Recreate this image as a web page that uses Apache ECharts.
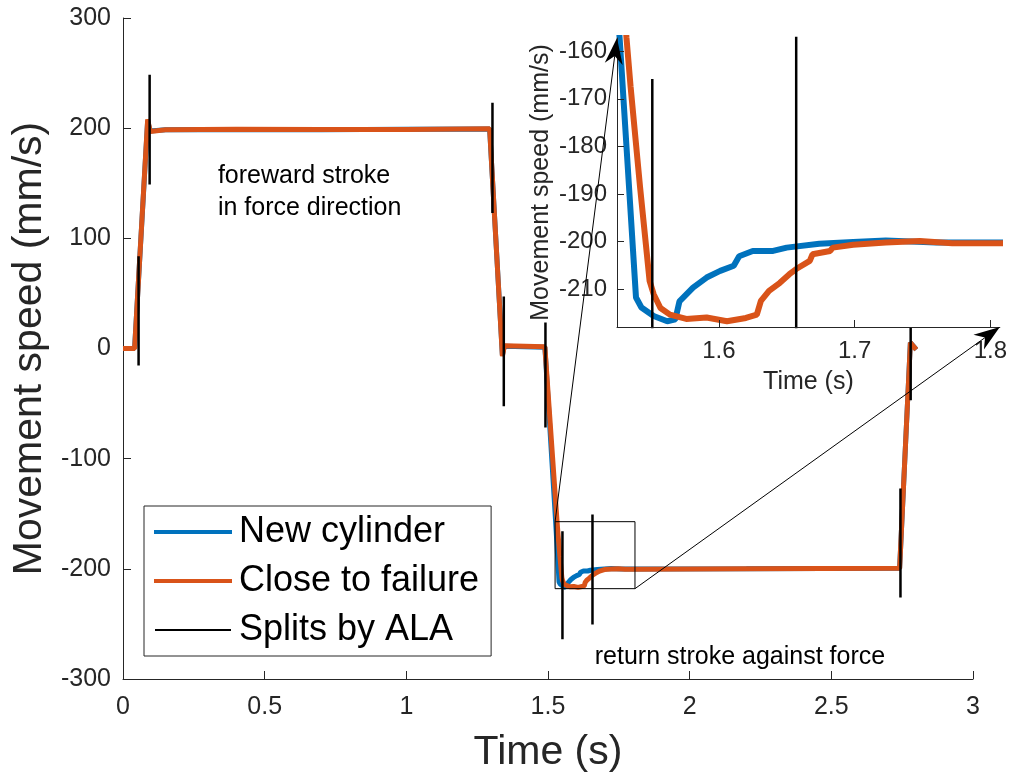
<!DOCTYPE html>
<html>
<head>
<meta charset="utf-8">
<script src="https://cdn.jsdelivr.net/npm/echarts@6/dist/echarts.min.js"></script>
<style>
html,body{margin:0;padding:0;background:#fff;}
#chart{width:1010px;height:779px;}
</style>
</head>
<body>
<div id="chart"></div>
<script>
// ---- data ----
const seriesNames = ['New cylinder', 'Close to failure', 'Splits by ALA'];
const newCylinder = [
  [0,0],[0.041,0.3],[0.087,206.5],[0.096,197.5],[0.15,198.6],[0.4,198.9],[0.7,198.6],[1.0,199],
  [1.294,199.2],[1.339,-6],[1.346,2],[1.489,1.2],[1.527,-157.5],[1.539,-211.8],[1.543,-213.9],
  [1.552,-215.7],[1.562,-216.8],[1.568,-216.4],[1.571,-212.6],[1.581,-209.7],[1.591,-207.6],
  [1.601,-206.2],[1.611,-205.1],[1.615,-203.1],[1.625,-202],[1.64,-202],[1.65,-201.3],
  [1.674,-200.5],[1.699,-200.1],[1.723,-199.8],[1.76,-200.2],[1.807,-200.2],[2.2,-200],
  [2.741,-199.5],[2.779,5.4],[2.80,-1]
];
const closeToFailure = [
  [0,0],[0.041,0],[0.087,208],[0.096,197],[0.15,198.5],[0.4,199],[0.7,198.7],[1.0,198.9],
  [1.294,199.5],[1.339,-7],[1.346,2.5],[1.489,1.5],[1.532,-157.2],[1.535,-167.4],[1.542,-188.6],
  [1.549,-208.3],[1.552,-211.1],[1.557,-214],[1.564,-215.4],[1.576,-216.3],[1.591,-216],
  [1.606,-216.8],[1.62,-216.1],[1.628,-215.4],[1.631,-212.5],[1.637,-210.4],[1.645,-208.7],
  [1.652,-206.9],[1.657,-205.8],[1.667,-204.1],[1.669,-202.7],[1.682,-202],[1.684,-201.3],
  [1.699,-200.7],[1.723,-200.2],[1.748,-199.9],[1.772,-200.4],[1.807,-200.4],[2.2,-200],
  [2.741,-199.5],[2.779,5.4],[2.80,-1]
];
// split markers: [time, top value, bottom value]
const splits = [
  [0.055,83.8,-15.4],[0.094,248.6,148.8],[1.304,223,123],[1.344,47.2,-52.4],[1.491,23.6,-71.7],
  [1.551,-165.8,-264],[1.657,-150.6,-250.5],[2.744,-127,-226],[2.78,53,-47]
];
const mainXTicks = [0, 3, 0.5];        // min, max, interval
const mainYTicks = [-300, 300, 100];
const insetXRange = [1.525, 1.807];
const insetYRange = [-218, -157.2];
const insetXTickValues = [1.6, 1.7, 1.8];
const insetYTickValues = [-210, -200, -190, -180, -170, -160];
const annotations = [
  {text: 'foreward stroke\nin force direction', at: [0.335, 142]},
  {text: 'return stroke against force', at: [1.665, -280.4]}
];

// ---- build chart ----
const FONT = '"Liberation Sans", Arial, Helvetica, sans-serif';
const AX = '#262626';
const BLUE = '#0072BD', ORANGE = '#D95319';

const splitData = [];
splits.forEach(s => { splitData.push([s[0], s[1]], [s[0], s[2]], [s[0], '-']); });
const rectData = [
  [insetXRange[0], insetYRange[1]], [insetXRange[1], insetYRange[1]],
  [insetXRange[1], insetYRange[0]], [insetXRange[0], insetYRange[0]],
  [insetXRange[0], insetYRange[1]]
];

function axisCommon(fs) {
  return {
    axisLine: {show: true, onZero: false, lineStyle: {color: AX, width: 1}},
    axisTick: {show: true, inside: true, length: 8, lineStyle: {color: AX}},
    splitLine: {show: false},
    axisLabel: {color: AX, fontSize: fs, fontFamily: FONT},
    nameTextStyle: {color: AX, fontFamily: FONT}
  };
}

const chart = echarts.init(document.getElementById('chart'));
const option = {
  animation: false,
  backgroundColor: '#fff',
  grid: [
    {left: 123, right: 37, top: 18, bottom: 100},
    {left: 617, right: 8, top: 38, bottom: 452, show: true, backgroundColor: '#fff', borderWidth: 0, z: 3}
  ],
  xAxis: [
    Object.assign(axisCommon(25), {
      gridIndex: 0, type: 'value', min: mainXTicks[0], max: mainXTicks[1], interval: mainXTicks[2],
      name: 'Time (s)', nameLocation: 'middle', nameGap: 53,
      nameTextStyle: {color: AX, fontFamily: FONT, fontSize: 41},
      axisLabel: {color: AX, fontSize: 25, fontFamily: FONT, margin: 16}
    }),
    Object.assign(axisCommon(24), {
      gridIndex: 1, type: 'value', min: insetXRange[0], max: insetXRange[1], z: 5,
      name: 'Time (s)', nameLocation: 'middle', nameGap: 43,
      nameTextStyle: {color: AX, fontFamily: FONT, fontSize: 25},
      axisTick: {show: true, inside: true, length: 7, lineStyle: {color: AX}, customValues: insetXTickValues},
      axisLabel: {color: AX, fontSize: 24, fontFamily: FONT, margin: 12, customValues: insetXTickValues}
    })
  ],
  yAxis: [
    Object.assign(axisCommon(25), {
      gridIndex: 0, type: 'value', min: mainYTicks[0], max: mainYTicks[1], interval: mainYTicks[2],
      name: 'Movement speed (mm/s)', nameLocation: 'middle', nameGap: 72,
      nameTextStyle: {color: AX, fontFamily: FONT, fontSize: 41},
      axisLabel: {color: AX, fontSize: 25, fontFamily: FONT, margin: 12}
    }),
    Object.assign(axisCommon(24), {
      gridIndex: 1, type: 'value', min: insetYRange[0], max: insetYRange[1], z: 5,
      name: 'Movement speed (mm/s)', nameLocation: 'middle', nameGap: 63,
      nameTextStyle: {color: AX, fontFamily: FONT, fontSize: 25},
      axisTick: {show: true, inside: true, length: 7, lineStyle: {color: AX}, customValues: insetYTickValues},
      axisLabel: {color: AX, fontSize: 24, fontFamily: FONT, margin: 10, customValues: insetYTickValues}
    })
  ],
  legend: {
    orient: 'vertical', left: 144, top: 506,
    padding: [6, 12, 6, 9], itemGap: 9, itemWidth: 78, itemHeight: 4,
    borderColor: AX, borderWidth: 1, backgroundColor: '#fff',
    textStyle: {fontSize: 36, color: '#000', fontFamily: FONT, lineHeight: 40, padding: [0, 0, 0, 2]},
    data: [
      {name: seriesNames[0], icon: 'rect', itemStyle: {color: BLUE, borderWidth: 0}},
      {name: seriesNames[1], icon: 'rect', itemStyle: {color: ORANGE, borderWidth: 0}},
      {name: seriesNames[2], icon: 'rect', itemStyle: {color: '#000', borderColor: '#fff', borderWidth: 2}}
    ]
  },
  series: [
    {name: seriesNames[0], type: 'line', xAxisIndex: 0, yAxisIndex: 0, data: newCylinder,
     showSymbol: false, symbol: 'none', lineStyle: {color: BLUE, width: 5}, itemStyle: {color: BLUE}, z: 2},
    {name: seriesNames[1], type: 'line', xAxisIndex: 0, yAxisIndex: 0, data: closeToFailure,
     showSymbol: false, symbol: 'none', lineStyle: {color: ORANGE, width: 5}, itemStyle: {color: ORANGE}, z: 2},
    {name: seriesNames[2], type: 'line', xAxisIndex: 0, yAxisIndex: 0, data: splitData,
     showSymbol: false, symbol: 'none', connectNulls: false, lineStyle: {color: '#000', width: 2.5}, itemStyle: {color: '#000'}, z: 2},
    {name: 'zoomRect', type: 'line', xAxisIndex: 0, yAxisIndex: 0, data: rectData, silent: true,
     showSymbol: false, symbol: 'none', lineStyle: {color: '#000', width: 1}, z: 2},
    {name: seriesNames[0], type: 'line', xAxisIndex: 1, yAxisIndex: 1, data: newCylinder,
     showSymbol: false, symbol: 'none', lineStyle: {color: BLUE, width: 6}, itemStyle: {color: BLUE}, z: 4},
    {name: seriesNames[1], type: 'line', xAxisIndex: 1, yAxisIndex: 1, data: closeToFailure,
     showSymbol: false, symbol: 'none', lineStyle: {color: ORANGE, width: 6}, itemStyle: {color: ORANGE}, z: 4},
    {name: seriesNames[2], type: 'line', xAxisIndex: 1, yAxisIndex: 1, data: splitData,
     showSymbol: false, symbol: 'none', connectNulls: false, lineStyle: {color: '#000', width: 2.5}, itemStyle: {color: '#000'}, z: 4}
  ]
};
chart.setOption(option);

// ---- annotations and zoom arrows placed through the coordinate systems ----
function arrowGraphics(from, to) {
  const dx = to[0] - from[0], dy = to[1] - from[1];
  const len = Math.sqrt(dx * dx + dy * dy);
  const ux = dx / len, uy = dy / len, nx = -uy, ny = ux;
  const L = 26, W = 9;
  const b1 = [to[0] - L * ux + W * nx, to[1] - L * uy + W * ny];
  const b2 = [to[0] - L * ux - W * nx, to[1] - L * uy - W * ny];
  const notch = [to[0] - 0.7 * L * ux, to[1] - 0.7 * L * uy];
  return [
    {type: 'line', z: 10, silent: true, shape: {x1: from[0], y1: from[1], x2: notch[0], y2: notch[1]},
     style: {stroke: '#000', lineWidth: 1}},
    {type: 'polygon', z: 10, silent: true, shape: {points: [to, b1, notch, b2]}, style: {fill: '#000'}}
  ];
}
const rectTL = chart.convertToPixel({gridIndex: 0}, [insetXRange[0], insetYRange[1]]);
const rectBR = chart.convertToPixel({gridIndex: 0}, [insetXRange[1], insetYRange[0]]);
const insetTL = chart.convertToPixel({gridIndex: 1}, [insetXRange[0], insetYRange[1]]);
const insetBR = chart.convertToPixel({gridIndex: 1}, [insetXRange[1], insetYRange[0]]);

const graphics = [].concat(arrowGraphics(rectTL, insetTL), arrowGraphics(rectBR, insetBR));
annotations.forEach(a => {
  const p = chart.convertToPixel({gridIndex: 0}, a.at);
  graphics.push({
    type: 'text', z: 6, silent: true, x: p[0], y: p[1],
    style: {text: a.text, fill: '#000', font: '25px ' + FONT, lineHeight: 32,
            align: 'left', verticalAlign: 'middle'}
  });
});
chart.setOption({graphic: graphics});
</script>
</body>
</html>
